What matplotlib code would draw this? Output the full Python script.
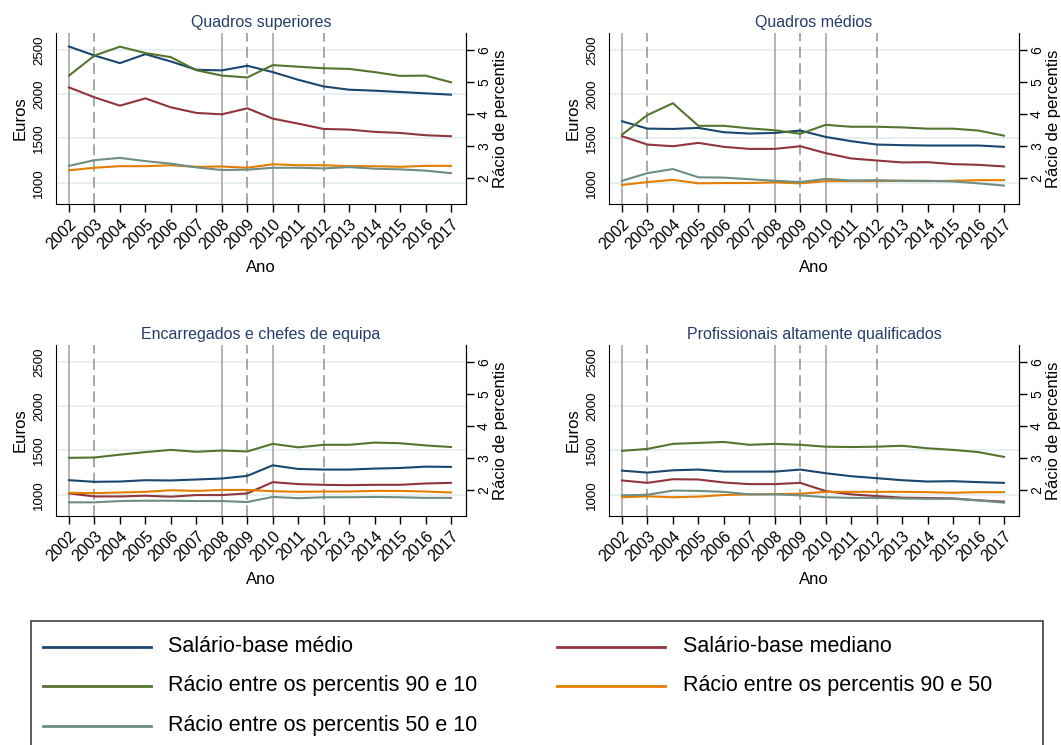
import matplotlib
matplotlib.use("Agg")
import matplotlib.pyplot as plt
from matplotlib.lines import Line2D
from matplotlib.patches import Rectangle

plt.rcParams['font.family'] = ['Liberation Sans', 'DejaVu Sans']

anos = list(range(2002, 2018))

# Quadros superiores
sup_medio = [2537, 2436, 2350, 2451, 2369, 2275, 2268, 2320, 2249, 2162, 2087, 2050, 2039, 2024, 2009, 1994]
sup_mediano = [2076, 1964, 1870, 1952, 1851, 1788, 1772, 1840, 1724, 1667, 1607, 1600, 1574, 1562, 1536, 1525]
sup_r9010 = [5.21, 5.84, 6.12, 5.92, 5.79, 5.38, 5.21, 5.15, 5.54, 5.49, 5.44, 5.42, 5.32, 5.20, 5.21, 5.00]
sup_r9050 = [2.23, 2.31, 2.36, 2.36, 2.39, 2.34, 2.35, 2.31, 2.42, 2.39, 2.39, 2.36, 2.36, 2.34, 2.37, 2.37]
sup_r5010 = [2.37, 2.55, 2.62, 2.52, 2.44, 2.32, 2.24, 2.25, 2.31, 2.31, 2.29, 2.33, 2.28, 2.26, 2.22, 2.14]

# Quadros médios
med_medio = [1694, 1611, 1607, 1619, 1570, 1555, 1562, 1589, 1517, 1469, 1431, 1424, 1420, 1420, 1420, 1405]
med_mediano = [1525, 1431, 1412, 1450, 1405, 1382, 1382, 1412, 1334, 1274, 1251, 1229, 1232, 1210, 1202, 1184]
med_r9010 = [3.35, 3.97, 4.34, 3.63, 3.63, 3.55, 3.49, 3.38, 3.66, 3.60, 3.60, 3.58, 3.54, 3.54, 3.48, 3.32]
med_r9050 = [1.77, 1.86, 1.93, 1.82, 1.83, 1.83, 1.85, 1.82, 1.89, 1.89, 1.89, 1.90, 1.89, 1.90, 1.92, 1.92]
med_r5010 = [1.90, 2.14, 2.27, 2.01, 2.00, 1.95, 1.90, 1.86, 1.96, 1.91, 1.92, 1.90, 1.90, 1.88, 1.82, 1.75]

# Encarregados e chefes de equipa
enc_medio = [1164, 1146, 1149, 1164, 1161, 1172, 1183, 1213, 1332, 1291, 1284, 1284, 1295, 1302, 1317, 1314]
enc_mediano = [1015, 981, 981, 989, 978, 996, 996, 1015, 1142, 1120, 1112, 1108, 1112, 1112, 1127, 1134]
enc_r9010 = [3.00, 3.01, 3.10, 3.18, 3.25, 3.19, 3.23, 3.20, 3.44, 3.33, 3.41, 3.41, 3.48, 3.46, 3.39, 3.34]
enc_r9050 = [1.90, 1.89, 1.91, 1.93, 1.98, 1.96, 1.99, 1.99, 1.95, 1.93, 1.94, 1.94, 1.96, 1.96, 1.94, 1.91]
enc_r5010 = [1.60, 1.60, 1.64, 1.65, 1.65, 1.64, 1.64, 1.61, 1.77, 1.73, 1.76, 1.76, 1.77, 1.76, 1.74, 1.74]

# Profissionais altamente qualificados
prof_medio = [1272, 1250, 1276, 1284, 1261, 1261, 1261, 1284, 1243, 1209, 1187, 1164, 1149, 1153, 1142, 1134]
prof_mediano = [1161, 1134, 1175, 1172, 1138, 1120, 1120, 1134, 1041, 1004, 985, 967, 963, 959, 937, 922]
prof_r9010 = [3.22, 3.28, 3.44, 3.47, 3.50, 3.41, 3.44, 3.41, 3.35, 3.34, 3.35, 3.38, 3.30, 3.25, 3.18, 3.03]
prof_r9050 = [1.76, 1.79, 1.76, 1.78, 1.83, 1.85, 1.86, 1.87, 1.93, 1.93, 1.93, 1.93, 1.92, 1.90, 1.92, 1.92]
prof_r5010 = [1.82, 1.84, 1.97, 1.96, 1.93, 1.85, 1.85, 1.82, 1.76, 1.74, 1.74, 1.72, 1.71, 1.71, 1.66, 1.59]

titulos = ["Quadros superiores", "Quadros médios",
           "Encarregados e chefes de equipa", "Profissionais altamente qualificados"]
series_euros = [(sup_medio, sup_mediano), (med_medio, med_mediano),
                (enc_medio, enc_mediano), (prof_medio, prof_mediano)]
series_racio = [(sup_r9010, sup_r9050, sup_r5010), (med_r9010, med_r9050, med_r5010),
                (enc_r9010, enc_r9050, enc_r5010), (prof_r9010, prof_r9050, prof_r5010)]

nomes = ["Salário-base médio", "Salário-base mediano",
         "Rácio entre os percentis 90 e 10", "Rácio entre os percentis 90 e 50",
         "Rácio entre os percentis 50 e 10"]
cores = ["#1a476f", "#90353b", "#55752f", "#e37e00", "#6e8e84"]

anos_solido = [2002, 2008, 2010]
anos_tracejado = [2003, 2009, 2012]

W, H = 1061, 745
fig = plt.figure(figsize=(W / 100, H / 100), dpi=100)

# panel boxes in pixels: left, top
caixas = [(56, 33), (609, 33), (56, 345), (609, 345)]
larg, alt = 410, 171

for i in range(4):
    x0, y0 = caixas[i]
    ax = fig.add_axes([x0 / W, 1 - (y0 + alt) / H, larg / W, alt / H])
    ax2 = ax.twinx()

    for g in [1000, 1500, 2000, 2500]:
        ax.axhline(g, color="#e4eef1", lw=1.3, zorder=0)
    for a in anos_solido:
        ax.axvline(a, color="#a0a0a0", lw=1.1, zorder=1)
    for a in anos_tracejado:
        ax.axvline(a, color="#a0a0a0", lw=1.3, ls=(0, (6, 3)), zorder=1)

    medio, mediano = series_euros[i]
    ax.plot(anos, medio, color=cores[0], lw=1.5, zorder=3)
    ax.plot(anos, mediano, color=cores[1], lw=1.5, zorder=3)
    r9010, r9050, r5010 = series_racio[i]
    ax2.plot(anos, r9010, color=cores[2], lw=1.5)
    ax2.plot(anos, r9050, color=cores[3], lw=1.5)
    ax2.plot(anos, r5010, color=cores[4], lw=1.5)

    ax.set_xlim(2001.49, 2017.59)
    ax.set_ylim(760, 2690)
    ax2.set_ylim(1.17, 6.55)

    ax.set_xticks(anos)
    ax.set_xticklabels([str(a) for a in anos], rotation=45, ha="right",
                       rotation_mode="anchor", fontsize=11.5)
    ax.tick_params(axis="x", length=6, width=1, pad=3)
    ax.set_yticks([1000, 1500, 2000, 2500])
    ax.tick_params(axis="y", length=0, pad=8, labelsize=9.5, labelrotation=90)
    for t in ax.get_yticklabels():
        t.set_va("center")
    ax2.set_yticks([2, 3, 4, 5, 6])
    ax2.tick_params(axis="y", length=6, width=1, pad=2, labelsize=10, labelrotation=90)
    for t in ax2.get_yticklabels():
        t.set_va("center")

    for a_ in (ax, ax2):
        a_.spines["top"].set_visible(False)
    ax2.spines["left"].set_visible(False)
    ax2.spines["bottom"].set_visible(False)

    ax.set_title(titulos[i], color="#263c6b", fontsize=11.5, pad=4)
    ax.set_ylabel("Euros", fontsize=12)
    ax.yaxis.set_label_coords(-0.068, 0.5)
    ax2.set_ylabel("Rácio de percentis", fontsize=12)
    ax2.yaxis.set_label_coords(1.066, 0.5)
    ax.set_xlabel("Ano", fontsize=12)
    ax.xaxis.set_label_coords(0.5, -0.33)

# legend drawn below the panels
fig.add_artist(Rectangle((31 / W, 1 - 780 / H), (1043 - 31) / W, (780 - 621) / H,
                         transform=fig.transFigure, fill=False,
                         edgecolor="#404040", lw=1.2, clip_on=False))
entradas = [(0, 43, 168, 647), (1, 557, 683, 647), (2, 43, 168, 686),
            (3, 557, 683, 686), (4, 43, 168, 726)]
for k, xl, xt, yr in entradas:
    fig.add_artist(Line2D([xl / W, (xl + 108) / W], [1 - yr / H, 1 - yr / H],
                          transform=fig.transFigure, color=cores[k], lw=2.0))
    fig.text(xt / W, 1 - yr / H, nomes[k], fontsize=15.5, va="center", ha="left")

fig.savefig("out.png", dpi=100)
